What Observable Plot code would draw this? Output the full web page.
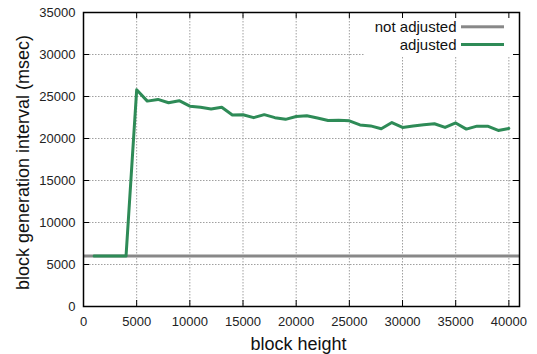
<!DOCTYPE html>
<html>
<head>
<meta charset="utf-8">
<script src="https://cdn.jsdelivr.net/npm/d3@7"></script>
<script src="https://cdn.jsdelivr.net/npm/@observablehq/plot@0.6"></script>
<style>
  html, body { margin: 0; padding: 0; background: #fff; }
  #chart svg { display: block; }
</style>
</head>
<body>
<div id="chart"></div>
<script>
// ---- data ----
const blockHeights = [1000,2000,3000,4000,5000,6000,7000,8000,9000,10000,
  11000,12000,13000,14000,15000,16000,17000,18000,19000,20000,
  21000,22000,23000,24000,25000,26000,27000,28000,29000,30000,
  31000,32000,33000,34000,35000,36000,37000,38000,39000,40000];
const adjusted = [6000,6000,6000,6000,25800,24450,24650,24250,24500,23850,
  23730,23520,23720,22790,22830,22480,22840,22480,22280,22610,
  22700,22450,22150,22180,22100,21620,21500,21160,21900,21320,
  21500,21650,21760,21320,21850,21120,21470,21470,20960,21200];
const notAdjusted = 6000;
const xTicks = [0,5000,10000,15000,20000,25000,30000,35000,40000];
const yTicks = [0,5000,10000,15000,20000,25000,30000,35000];
const seriesNames = ["not adjusted", "adjusted"];
const seriesColors = ["#888888", "#2e8b57"];

const adjustedData = blockHeights.map((h, i) => ({h, v: adjusted[i]}));

// ---- layout ----
const W = 537, H = 354;
const mL = 83, mR = 18, mT = 12, mB = 48;
const fw = W - mL - mR, fh = H - mT - mB;
const font = "'Liberation Sans', Arial, sans-serif";

const chart = Plot.plot({
  width: W, height: H,
  marginLeft: mL, marginRight: mR, marginTop: mT, marginBottom: mB,
  style: {fontFamily: font, background: "#fff", overflow: "visible"},
  x: {domain: [0, 41000]},
  y: {domain: [0, 35000]},
  marks: [
    // grid
    Plot.ruleX(xTicks.filter(t => t > 0), {x: d => d, stroke: "#a0a0a0", strokeWidth: 1, strokeDasharray: "1.5,1.5"}),
    Plot.ruleY(yTicks.filter(t => t > 0 && t < 35000), {y: d => d, stroke: "#a0a0a0", strokeWidth: 1, strokeDasharray: "1.5,1.5"}),
    // legend box (white background covering grid)
    Plot.rect([0], {fill: "white", insetLeft: 282, insetBottom: fh - 44}),
    // data
    Plot.ruleY([notAdjusted], {y: d => d, stroke: seriesColors[0], strokeWidth: 3}),
    Plot.line(adjustedData, {x: "h", y: "v", stroke: seriesColors[1], strokeWidth: 3, strokeLinejoin: "round"}),
    // inward ticks on all four sides
    Plot.ruleX(xTicks, {x: d => d, stroke: "black", strokeWidth: 1, insetTop: fh - 6}),
    Plot.ruleX(xTicks, {x: d => d, stroke: "black", strokeWidth: 1, insetBottom: fh - 6}),
    Plot.ruleY(yTicks, {y: d => d, stroke: "black", strokeWidth: 1, insetRight: fw - 6}),
    Plot.ruleY(yTicks, {y: d => d, stroke: "black", strokeWidth: 1, insetLeft: fw - 6}),
    // tick labels
    Plot.axisX(xTicks, {tickSize: 0, tickPadding: 10, fontSize: 13, fill: "#222", tickFormat: d => String(d), label: null}),
    Plot.axisY(yTicks, {tickSize: 0, tickPadding: 8, fontSize: 13, fill: "#222", tickFormat: d => String(d), label: null}),
    // axis titles
    Plot.text(["block height"], {frameAnchor: "bottom", text: d => d, fontSize: 18, fill: "#111", dx: -3, dy: 37.5, lineAnchor: "middle"}),
    Plot.text(["block generation interval (msec)"], {frameAnchor: "left", text: d => d, fontSize: 18, fill: "#111", rotate: -90, textAnchor: "middle", dx: -60, dy: 3, lineAnchor: "middle"}),
    // legend
    Plot.text([seriesNames[0]], {frameAnchor: "top-right", text: d => d, fontSize: 15, fill: "#111", textAnchor: "end", lineAnchor: "middle", dx: -63, dy: 15}),
    Plot.text([seriesNames[1]], {frameAnchor: "top-right", text: d => d, fontSize: 15, fill: "#111", textAnchor: "end", lineAnchor: "middle", dx: -63, dy: 32.5}),
    Plot.rect([0], {fill: seriesColors[0], insetLeft: 378, insetRight: 15, insetTop: 13.3, insetBottom: fh - 16.3}),
    Plot.rect([0], {fill: seriesColors[1], insetLeft: 378, insetRight: 15, insetTop: 31, insetBottom: fh - 34}),
    // frame
    Plot.frame({stroke: "black", strokeWidth: 1.5})
  ]
});
document.getElementById("chart").appendChild(chart);
</script>
</body>
</html>
